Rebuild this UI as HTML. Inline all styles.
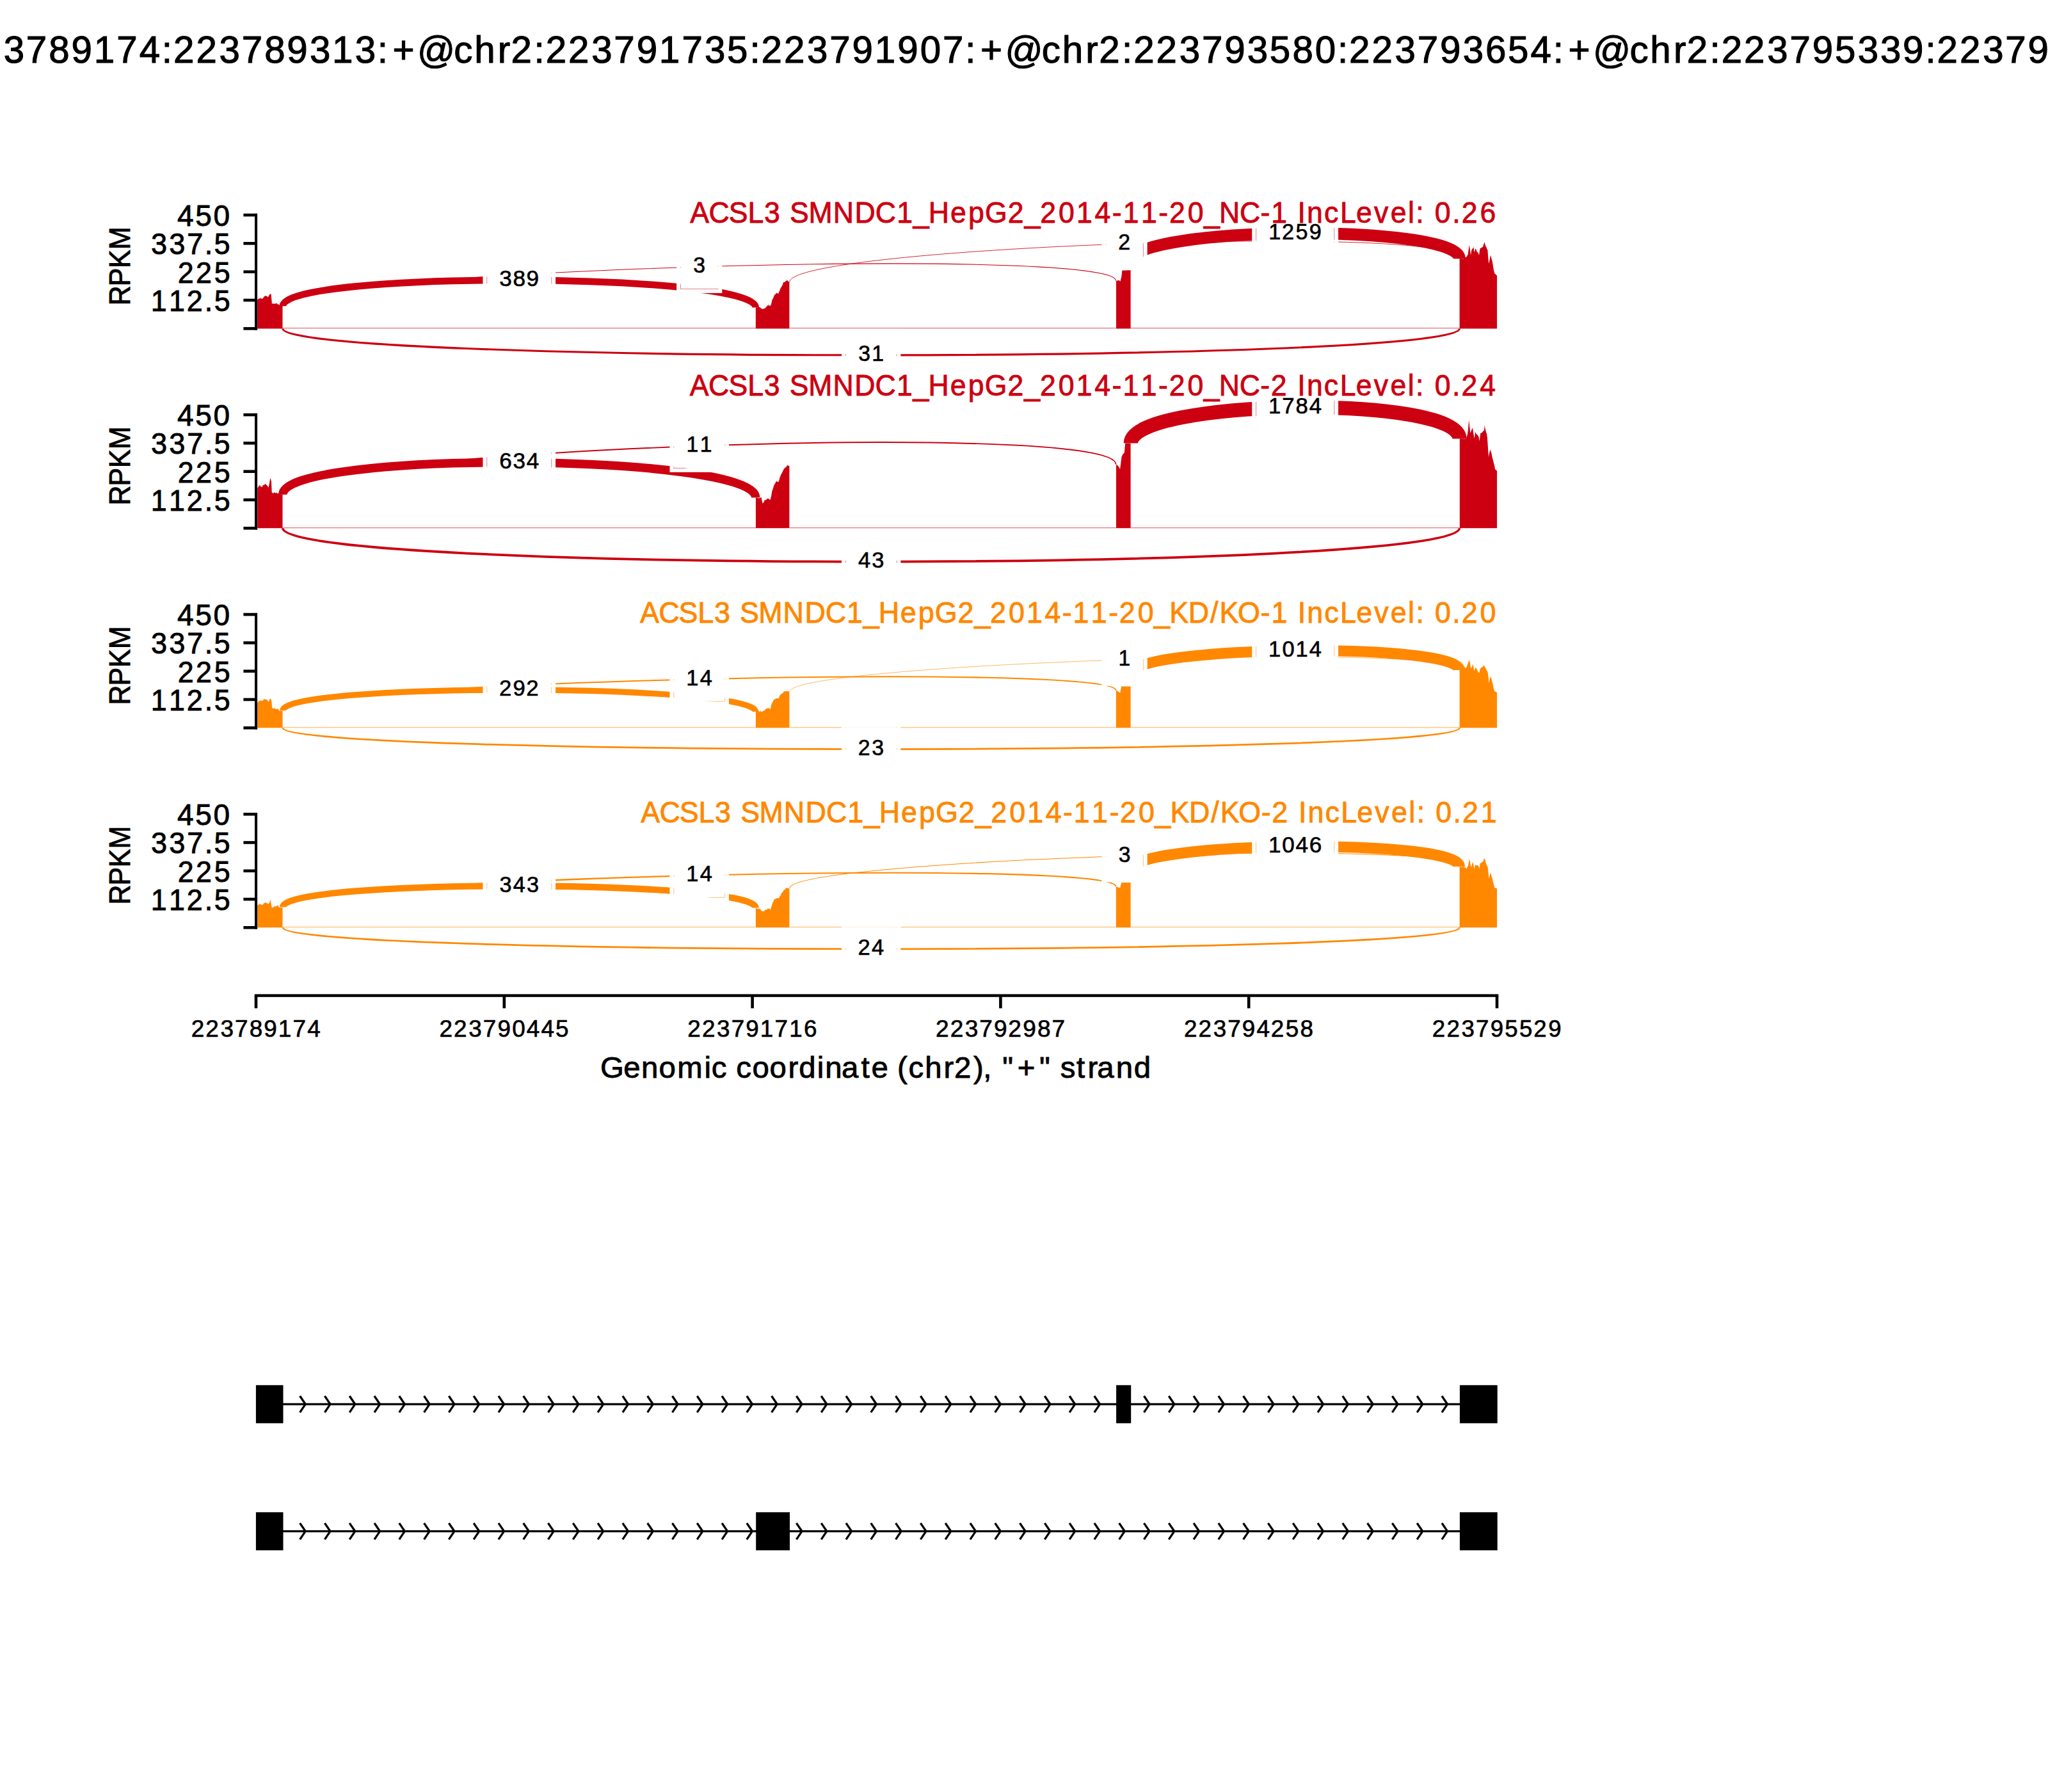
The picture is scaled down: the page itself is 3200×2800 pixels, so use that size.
<!DOCTYPE html>
<html><head><meta charset="utf-8"><style>
html,body{margin:0;padding:0;background:#fff;overflow:hidden}
svg{display:block}
text{font-family:"Liberation Sans",sans-serif;font-kerning:none}
</style></head><body>
<svg width="3200" height="2800" viewBox="0 0 3200 2800">
<rect width="3200" height="2800" fill="#fff"/>
<text transform="translate(-209.23,98.3) scale(0.9900,1)" x="0.04 32.31 69.24 90.23 126.5 144.85 180.55 217.08 252.6 288.41 323.94 359.53 395.42 431.24 466.77 485.12 520.82 557.35 592.87 628.69 664.22 700.18 735.51 771.59 807.04 831 869.99 927.85 960.11 997.05 1018.04 1054.31 1072.65 1108.36 1144.89 1180.4 1216.05 1251.63 1287.53 1323.42 1358.83 1394.58 1412.93 1448.63 1485.16 1520.68 1556.32 1591.9 1627.73 1663.62 1699.21 1734.85 1758.81 1797.8 1855.66 1887.92 1924.86 1945.85 1982.12 2000.46 2036.17 2072.69 2108.21 2143.85 2179.82 2215.23 2251.15 2286.86 2322.39 2340.74 2376.44 2412.97 2448.49 2484.13 2520.09 2555.72 2591.21 2627.13 2662.66 2686.62 2725.6 2783.47 2815.73 2852.67 2873.66 2909.92 2928.27 2963.98 3000.5 3036.02 3071.66 3107.33 3143.33 3179.04 3214.49 3250.2 3268.54 3304.25 3340.78 3376.3 3411.94 3447.6 3483.31 3518.49 3554.76 3590.47 3614.42" y="0" font-size="58.87" fill="#000" stroke="#000" stroke-width="1.11">chr2:223789174:223789313:+@chr2:223791735:223791907:+@chr2:223793580:223793654:+@chr2:223795339:223795529:+</text>
<g id="pc0">
<polygon points="402.2,513.4 402.2,468.1 403.02,467.6 403.85,467.1 404.68,466.34 405.5,466.53 406.28,466.45 407.07,466.19 407.85,465.11 408.63,466.73 409.42,467 410.2,466.52 411.05,465.82 411.9,464.48 412.75,463.26 413.6,463.02 414.37,462.37 415.14,462.46 415.91,462 416.69,462.89 417.46,462.82 418.23,464.15 419,464.18 419.97,462.11 420.93,461.1 421.9,458.91 422.75,459.39 423.6,459.55 425,475 425.78,474.49 426.57,473.69 427.35,474.46 428.13,475.07 428.92,473.95 429.7,474.82 430.46,474.62 431.21,473.93 431.97,474.23 432.73,473.57 433.49,475.56 434.24,475.63 435,474.79 436,477.11 437,477.07 437.75,477.9 438.5,477.29 439.25,478.15 440,477.97 440.75,478.08 441.5,478.2 441.5,513.4" fill="#CC0011"/>
<polygon points="1180.8,513.4 1180.8,480.4 1181.55,480.35 1182.3,480.3 1183.05,480.94 1183.8,479.79 1184.55,478.69 1185.3,479.87 1186.05,479.86 1186.8,480.26 1187.58,479.7 1188.37,481.15 1189.15,481.97 1189.93,481.67 1190.72,482.53 1191.5,483.54 1192.27,482.14 1193.04,482.3 1193.81,482.92 1194.59,481.6 1195.36,481.62 1196.13,481.31 1196.9,479.84 1197.8,478.93 1198.7,478.22 1199.6,476.74 1200.37,476.8 1201.13,476.57 1201.9,478.06 1202.67,477.48 1203.43,477.5 1204.2,477.81 1205.25,474.27 1206.3,469.5 1207.12,467.55 1207.95,466.28 1208.77,464 1209.6,461.9 1210.45,460.38 1211.3,459.96 1212.15,459.28 1213,457.57 1213.83,457.8 1214.65,458.7 1215.47,458.1 1216.3,459.14 1217.12,456.58 1217.95,454.77 1218.77,452.53 1219.6,450.2 1220.4,449.16 1221.2,447.67 1222,446.74 1222.77,444.88 1223.53,442.59 1224.3,440.71 1225.07,440.95 1225.84,440.6 1226.61,441.03 1227.39,439.34 1228.16,438.86 1228.93,439.26 1229.7,436.94 1230.62,438.61 1231.55,439.65 1232.48,440.23 1233.4,440.8 1233.4,513.4" fill="#CC0011"/>
<polygon points="1744,513.4 1744,438.6 1744.88,438.5 1745.75,438.4 1746.62,438.3 1747.5,438.2 1748.25,438 1749,437.8 1750.2,440.2 1751.2,436.65 1752.2,433.1 1753.4,422.6 1754.18,422.58 1754.95,422.55 1755.73,422.53 1756.51,422.51 1757.28,422.48 1758.06,422.46 1758.84,422.44 1759.61,422.41 1760.39,422.39 1761.16,422.36 1761.94,422.34 1762.72,422.32 1763.49,422.29 1764.27,422.27 1765.05,422.25 1765.82,422.22 1766.6,422.2 1766.6,513.4" fill="#CC0011"/>
<polygon points="2280.6,513.4 2280.6,404.2 2281.43,404.2 2282.26,404.2 2283.09,403.08 2283.91,404.27 2284.74,404.41 2285.57,404.34 2286.4,404.87 2287.22,403.87 2288.03,404.32 2288.85,403.32 2289.67,403.32 2290.48,401.57 2291.3,401.41 2292.07,400.63 2292.83,398.86 2293.6,397.71 2294.7,390.11 2295.8,382.67 2296.9,389.69 2298,399.06 2299.4,390.32 2300.18,389.78 2300.95,388.2 2301.72,387.53 2302.5,386.05 2303.4,394.09 2304.3,392.31 2305.2,388.87 2306.09,388.79 2306.97,391.17 2307.86,393.65 2308.75,393.97 2309.5,395.35 2310.25,396.45 2311,399.01 2311.9,392.31 2312.8,387.62 2313.6,387.94 2314.4,387.19 2315.2,386.85 2316,386.26 2316.8,386.01 2317.7,383.67 2318.6,380.78 2319.5,378.26 2320.38,381.19 2321.25,384.55 2322.04,385.79 2322.82,387.05 2323.61,389.38 2324.4,390.58 2325.3,402.73 2326.2,412.1 2327.07,408.59 2327.93,404.3 2328.8,398.15 2329.7,401.48 2330.6,404.46 2331.5,407.45 2332.4,412.21 2333.3,418.29 2334.2,422.9 2335.1,426.85 2335.88,428.1 2336.66,428.11 2337.44,429.46 2338.22,429.98 2339,430.5 2339,513.4" fill="#CC0011"/>
<rect x="441.8" y="511.9" width="738.9" height="1.6" fill="#CC0011" opacity="0.45"/>
<rect x="1233.6" y="511.9" width="510" height="1.6" fill="#CC0011" opacity="0.45"/>
<rect x="1766.8" y="511.9" width="513.7" height="1.6" fill="#CC0011" opacity="0.45"/>
<path d="M441.8,478.2 C441.8,422.87 1180.7,425.07 1180.7,480.4" fill="none" stroke="#CC0011" stroke-width="10.68"/>
<path d="M441.8,478.2 C441.8,422.87 1743.6,383.27 1743.6,438.6" fill="none" stroke="#CC0011" stroke-width="1.03"/>
<path d="M1233.6,440.8 C1233.6,385.47 2280.5,348.87 2280.5,404.2" fill="none" stroke="#CC0011" stroke-width="0.85"/>
<path d="M1766.8,408.2 C1766.8,352.87 2280.5,348.87 2280.5,404.2" fill="none" stroke="#CC0011" stroke-width="18.76"/>
<path d="M441.8,513.4 C441.8,568.73 2280.5,568.73 2280.5,513.4" fill="none" stroke="#CC0011" stroke-width="3.17"/>
</g>
<rect x="754.44" y="396.8" width="113.62" height="82" fill="#fff"/>
<clipPath id="cl0_389_811"><rect x="760.24" y="402.6" width="102.02" height="1"/><rect x="760.24" y="472" width="102.02" height="1"/><rect x="760.24" y="402.6" width="1" height="70.4"/><rect x="861.26" y="402.6" width="1" height="70.4"/></clipPath>
<use href="#pc0" clip-path="url(#cl0_389_811)" opacity="0.5"/>
<text transform="translate(779.44,447.1) scale(0.9959,1)" x="0.86 22.11 43.3" y="0" font-size="35.32" fill="#000" stroke="#000" stroke-width="0.67">389</text>
<rect x="1057.1" y="375.9" width="71.21" height="82" fill="#fff"/>
<clipPath id="cl0_3_1092"><rect x="1062.9" y="381.7" width="59.61" height="1"/><rect x="1062.9" y="451.1" width="59.61" height="1"/><rect x="1062.9" y="381.7" width="1" height="70.4"/><rect x="1121.5" y="381.7" width="1" height="70.4"/></clipPath>
<use href="#pc0" clip-path="url(#cl0_3_1092)" opacity="0.5"/>
<text transform="translate(1082.1,426.2) scale(0.9554,1)" x="1.31" y="0" font-size="35.32" fill="#000" stroke="#000" stroke-width="0.67">3</text>
<rect x="1721.45" y="340" width="71.21" height="82" fill="#fff"/>
<clipPath id="cl0_2_1757"><rect x="1727.25" y="345.8" width="59.61" height="1"/><rect x="1727.25" y="415.2" width="59.61" height="1"/><rect x="1727.25" y="345.8" width="1" height="70.4"/><rect x="1785.85" y="345.8" width="1" height="70.4"/></clipPath>
<use href="#pc0" clip-path="url(#cl0_2_1757)" opacity="0.5"/>
<text transform="translate(1746.45,390.3) scale(0.9589,1)" x="0.77" y="0" font-size="35.32" fill="#000" stroke="#000" stroke-width="0.67">2</text>
<rect x="1956.24" y="323.7" width="134.82" height="82" fill="#fff"/>
<clipPath id="cl0_1259_2023"><rect x="1962.04" y="329.5" width="123.22" height="1"/><rect x="1962.04" y="398.9" width="123.22" height="1"/><rect x="1962.04" y="329.5" width="1" height="70.4"/><rect x="2084.26" y="329.5" width="1" height="70.4"/></clipPath>
<use href="#pc0" clip-path="url(#cl0_1259_2023)" opacity="0.5"/>
<text transform="translate(1981.24,374) scale(0.9690,1)" x="0.94 22.54 44.75 66.65" y="0" font-size="35.32" fill="#000" stroke="#000" stroke-width="0.67">1259</text>
<rect x="1314.94" y="513.9" width="92.41" height="82" fill="#fff"/>
<clipPath id="cl0_31_1361"><rect x="1320.74" y="519.7" width="80.81" height="1"/><rect x="1320.74" y="589.1" width="80.81" height="1"/><rect x="1320.74" y="519.7" width="1" height="70.4"/><rect x="1400.56" y="519.7" width="1" height="70.4"/></clipPath>
<use href="#pc0" clip-path="url(#cl0_31_1361)" opacity="0.5"/>
<text transform="translate(1339.94,564.2) scale(0.9529,1)" x="1.34 23.38" y="0" font-size="35.32" fill="#000" stroke="#000" stroke-width="0.67">31</text>
<rect x="398" y="333.8" width="4.1" height="181.8" fill="#000"/>
<rect x="380.4" y="511.1" width="21.6" height="4.6" fill="#000"/>
<rect x="380.4" y="466.75" width="21.6" height="4.6" fill="#000"/>
<rect x="380.4" y="422.4" width="21.6" height="4.6" fill="#000"/>
<rect x="380.4" y="378.05" width="21.6" height="4.6" fill="#000"/>
<rect x="380.4" y="333.7" width="21.6" height="4.6" fill="#000"/>
<text transform="translate(234.26,485.85) scale(0.9530,1)" x="1.51 31.17 60.45 89.85 105.37" y="0" font-size="47.09" fill="#000" stroke="#000" stroke-width="0.89">112.5</text>
<text transform="translate(276.66,441.5) scale(0.9521,1)" x="1.13 30.83 60.96" y="0" font-size="47.09" fill="#000" stroke="#000" stroke-width="0.89">225</text>
<text transform="translate(234.26,397.15) scale(0.9587,1)" x="1.7 31.19 60.53 89.28 104.67" y="0" font-size="47.09" fill="#000" stroke="#000" stroke-width="0.89">337.5</text>
<text transform="translate(275.73,352.8) scale(0.9767,1)" x="1.36 30.14 59.27" y="0" font-size="47.09" fill="#000" stroke="#000" stroke-width="0.89">450</text>
<text transform="translate(203,415.5) rotate(-90) translate(-62.59,0) scale(0.9101,1)" x="0.81 33.82 64.92 96.86" y="0" font-size="47.09" fill="#000" stroke="#000" stroke-width="0.89">RPKM</text>
<text transform="translate(1077.83,347.9) scale(0.9468,1)" x="0.34 31.24 64.33 95.68 122.71 150.69 165.05 196.05 236.44 272.19 306.28 341.53 368.51 393.88 429.98 459.54 487.05 524.79 552.18 578.12 608.6 638.25 668.32 696.99 714.91 744.77 773.65 791.17 821.65 848.42 873.7 907.4 941.67 959.58 987.84 1003.14 1018.48 1046.94 1073.16 1099.74 1129.29 1156.39 1185.12 1198.25 1212.69 1229.43 1258.36 1273.59 1304.09" y="0" font-size="47.09" fill="#CC0011" stroke="#CC0011" stroke-width="0.89">ACSL3 SMNDC1_HepG2_2014-11-20_NC-1 IncLevel: 0.26</text>
<g id="pc1">
<polygon points="402.3,825.3 402.3,762.4 403.1,761.4 403.9,760.4 404.7,758.62 405.5,758.81 406.32,758.06 407.15,760.4 407.98,759.73 408.8,761.27 409.63,760.74 410.47,758.64 411.3,757.72 412.1,758.26 412.9,757.61 413.7,756.79 414.5,756.12 415.3,757 416.18,756.84 417.06,758.89 417.94,758.98 418.82,760.81 419.7,761.87 420.53,757.25 421.37,753.12 422.2,746.88 423.1,748.89 424,752.46 424.7,769.18 425.62,770.06 426.55,770.77 427.47,770.51 428.4,768.87 429.26,770.12 430.12,770.18 430.98,770.25 431.84,770.28 432.7,769.72 433.67,771.48 434.63,770.73 435.6,771.66 436.44,771.74 437.29,772.87 438.13,772 438.97,772.48 439.81,772.87 440.66,773.09 441.5,773.3 441.5,825.3" fill="#CC0011"/>
<polygon points="1180.9,825.3 1180.9,777.2 1181.8,777.58 1182.7,777.95 1183.6,778.01 1184.5,778.54 1185.35,778.27 1186.2,778.39 1187.05,778.03 1187.9,778.28 1188.75,776.82 1189.6,777.52 1190.7,783.08 1191.8,786.98 1192.85,785.14 1193.9,783.74 1194.69,781.24 1195.47,781.87 1196.26,781.11 1197.04,780.79 1197.83,780.78 1198.61,778.83 1199.4,779.14 1200.26,778.98 1201.12,779.45 1201.98,779.83 1202.84,781.15 1203.7,780.19 1204.57,777.34 1205.43,773.19 1206.3,767.43 1207.1,765.71 1207.9,763.34 1208.7,760.69 1209.5,757.6 1210.3,756.77 1211.1,755.59 1211.9,753.67 1212.7,752.44 1213.5,751.32 1214.47,753.33 1215.43,752.74 1216.4,752.66 1217.37,750.87 1218.33,746.35 1219.3,744.52 1220.4,740.91 1221.5,739.73 1222.47,737.55 1223.43,735.69 1224.4,733.51 1225.37,732.57 1226.33,730.51 1227.3,730.86 1228.4,729.65 1229.5,727.56 1230.28,726.4 1231.06,727.72 1231.84,727.62 1232.62,727.76 1233.4,727.9 1233.4,825.3" fill="#CC0011"/>
<polygon points="1744,825.3 1744,725.5 1744.83,726.2 1745.65,726.9 1746.47,727.6 1747.3,728.3 1748.23,729.87 1749.17,731.43 1750.1,733 1750.9,726.7 1751.7,720.4 1752.5,714.1 1753.45,711.95 1754.4,709.8 1755.2,709 1756,708.2 1756.8,707.4 1758.2,692.7 1758.96,692.7 1759.73,692.7 1760.49,692.7 1761.25,692.7 1762.02,692.7 1762.78,692.7 1763.55,692.7 1764.31,692.7 1765.07,692.7 1765.84,692.7 1766.6,692.7 1766.6,825.3" fill="#CC0011"/>
<polygon points="2280.8,825.3 2280.8,685.6 2281.58,685.6 2282.35,685.6 2283.13,684.04 2283.91,685.67 2284.68,685.78 2285.46,685.54 2286.24,684.7 2287.02,685.59 2287.79,686.47 2288.57,684.91 2289.35,685.5 2290.12,685.38 2290.9,685.42 2291.95,681.86 2293,678.33 2293.8,672.03 2294.6,663.26 2295.4,656.87 2296.35,667.18 2297.3,676.6 2298.23,674.85 2299.15,672.06 2300.07,670.31 2301,668.51 2301.87,674.44 2302.73,679.73 2303.6,685.22 2304.4,680.97 2305.2,674.59 2305.96,676.64 2306.71,678.01 2307.47,678.59 2308.23,679.38 2308.99,680.11 2309.74,681.26 2310.5,682.67 2311.6,689.15 2312.4,683.86 2313.2,677.12 2314.03,676.79 2314.86,676.39 2315.69,675.69 2316.51,674.96 2317.34,673.86 2318.17,672.71 2319,672.86 2319.6,664.7 2320.44,668.45 2321.28,672.32 2322.12,675.73 2322.96,677.43 2323.8,682.74 2324.85,697.71 2325.9,714.53 2326.8,708.96 2327.7,705.59 2328.6,702.09 2329.38,705.35 2330.17,707.21 2330.95,710.93 2331.73,715.19 2332.52,717.48 2333.3,720.73 2334.2,724.4 2335.1,727.83 2336,732.9 2336.75,733.71 2337.5,734.4 2338.25,734.95 2339,735.5 2339,825.3" fill="#CC0011"/>
<rect x="441.8" y="823.8" width="738.9" height="1.6" fill="#CC0011" opacity="0.45"/>
<rect x="1233.6" y="823.8" width="510" height="1.6" fill="#CC0011" opacity="0.45"/>
<rect x="1766.8" y="823.8" width="513.7" height="1.6" fill="#CC0011" opacity="0.45"/>
<path d="M441.8,772.7 C441.8,702.97 1180.7,707.67 1180.7,777.4" fill="none" stroke="#CC0011" stroke-width="13.5"/>
<path d="M441.8,772.7 C441.8,702.97 1743.6,655.77 1743.6,725.5" fill="none" stroke="#CC0011" stroke-width="1.93"/>
<path d="M1766.8,692.5 C1766.8,622.77 2280.5,615.87 2280.5,685.6" fill="none" stroke="#CC0011" stroke-width="22.18"/>
<path d="M441.8,825.3 C441.8,895.03 2280.5,895.03 2280.5,825.3" fill="none" stroke="#CC0011" stroke-width="3.71"/>
</g>
<rect x="754.44" y="681.75" width="113.62" height="82" fill="#fff"/>
<clipPath id="cl1_634_811"><rect x="760.24" y="687.55" width="102.02" height="1"/><rect x="760.24" y="756.95" width="102.02" height="1"/><rect x="760.24" y="687.55" width="1" height="70.4"/><rect x="861.26" y="687.55" width="1" height="70.4"/></clipPath>
<use href="#pc1" clip-path="url(#cl1_634_811)" opacity="0.5"/>
<text transform="translate(779.44,732.05) scale(0.9930,1)" x="0.85 22.25 43.55" y="0" font-size="35.32" fill="#000" stroke="#000" stroke-width="0.67">634</text>
<rect x="1046.49" y="655.8" width="92.41" height="82" fill="#fff"/>
<clipPath id="cl1_11_1092"><rect x="1052.29" y="661.6" width="80.81" height="1"/><rect x="1052.29" y="731" width="80.81" height="1"/><rect x="1052.29" y="661.6" width="1" height="70.4"/><rect x="1132.11" y="661.6" width="1" height="70.4"/></clipPath>
<use href="#pc1" clip-path="url(#cl1_11_1092)" opacity="0.5"/>
<text transform="translate(1071.49,706.1) scale(0.9502,1)" x="1.16 23.48" y="0" font-size="35.32" fill="#000" stroke="#000" stroke-width="0.67">11</text>
<rect x="1956.24" y="595.75" width="134.82" height="82" fill="#fff"/>
<clipPath id="cl1_1784_2023"><rect x="1962.04" y="601.55" width="123.22" height="1"/><rect x="1962.04" y="670.95" width="123.22" height="1"/><rect x="1962.04" y="601.55" width="1" height="70.4"/><rect x="2084.26" y="601.55" width="1" height="70.4"/></clipPath>
<use href="#pc1" clip-path="url(#cl1_1784_2023)" opacity="0.5"/>
<text transform="translate(1981.24,646.05) scale(0.9819,1)" x="0.79 22.5 44.16 65.75" y="0" font-size="35.32" fill="#000" stroke="#000" stroke-width="0.67">1784</text>
<rect x="1314.94" y="836.6" width="92.41" height="82" fill="#fff"/>
<clipPath id="cl1_43_1361"><rect x="1320.74" y="842.4" width="80.81" height="1"/><rect x="1320.74" y="911.8" width="80.81" height="1"/><rect x="1320.74" y="842.4" width="1" height="70.4"/><rect x="1400.56" y="842.4" width="1" height="70.4"/></clipPath>
<use href="#pc1" clip-path="url(#cl1_43_1361)" opacity="0.5"/>
<text transform="translate(1339.94,886.9) scale(0.9758,1)" x="1.03 22.81" y="0" font-size="35.32" fill="#000" stroke="#000" stroke-width="0.67">43</text>
<rect x="398" y="645.9" width="4.1" height="181.6" fill="#000"/>
<rect x="380.4" y="823" width="21.6" height="4.6" fill="#000"/>
<rect x="380.4" y="778.7" width="21.6" height="4.6" fill="#000"/>
<rect x="380.4" y="734.4" width="21.6" height="4.6" fill="#000"/>
<rect x="380.4" y="690.1" width="21.6" height="4.6" fill="#000"/>
<rect x="380.4" y="645.8" width="21.6" height="4.6" fill="#000"/>
<text transform="translate(234.26,797.8) scale(0.9530,1)" x="1.51 31.17 60.45 89.85 105.37" y="0" font-size="47.09" fill="#000" stroke="#000" stroke-width="0.89">112.5</text>
<text transform="translate(276.66,753.5) scale(0.9521,1)" x="1.13 30.83 60.96" y="0" font-size="47.09" fill="#000" stroke="#000" stroke-width="0.89">225</text>
<text transform="translate(234.26,709.2) scale(0.9587,1)" x="1.7 31.19 60.53 89.28 104.67" y="0" font-size="47.09" fill="#000" stroke="#000" stroke-width="0.89">337.5</text>
<text transform="translate(275.73,664.9) scale(0.9767,1)" x="1.36 30.14 59.27" y="0" font-size="47.09" fill="#000" stroke="#000" stroke-width="0.89">450</text>
<text transform="translate(203,727.6) rotate(-90) translate(-62.59,0) scale(0.9101,1)" x="0.81 33.82 64.92 96.86" y="0" font-size="47.09" fill="#000" stroke="#000" stroke-width="0.89">RPKM</text>
<text transform="translate(1077.53,617.9) scale(0.9464,1)" x="0.35 31.26 64.37 95.74 122.77 150.76 165.14 196.15 236.56 272.33 306.44 341.7 368.7 394.09 430.2 459.78 487.3 525.06 552.46 578.41 608.91 638.57 668.65 697.34 715.27 745.14 774.04 791.57 822.06 848.84 874.14 907.85 942.13 959.66 988.32 1003.63 1018.99 1047.46 1073.7 1100.29 1129.86 1156.97 1185.71 1198.84 1213.28 1230.04 1258.99 1274.23 1304.71" y="0" font-size="47.09" fill="#CC0011" stroke="#CC0011" stroke-width="0.89">ACSL3 SMNDC1_HepG2_2014-11-20_NC-2 IncLevel: 0.24</text>
<g id="pc2">
<polygon points="402.3,1137.3 402.3,1097.6 403.27,1096.63 404.23,1095.67 405.2,1094.8 406.06,1095.06 406.92,1094.73 407.78,1094.61 408.64,1094.66 409.5,1094.68 410.6,1095.24 411.7,1093.1 412.6,1092.33 413.5,1092.31 414.4,1092.96 415.3,1092.52 416.18,1093.06 417.06,1093.72 417.94,1093.57 418.82,1095.92 419.7,1096.38 420.67,1094.39 421.63,1091.92 422.6,1091.74 423.5,1092.83 424.4,1095.75 425.1,1105.47 425.9,1107.36 426.7,1106.44 427.5,1106.88 428.3,1106.51 429.1,1107.49 429.87,1106.22 430.64,1107.85 431.41,1108.21 432.19,1107.84 432.96,1107.35 433.73,1107.4 434.5,1107.96 435.4,1108.47 436.3,1111.11 437.17,1110 438.03,1110.92 438.9,1110.66 439.77,1110.7 440.63,1110.7 441.5,1110.7 441.5,1137.3" fill="#FF8800"/>
<polygon points="1180.9,1137.3 1180.9,1112.1 1181.7,1112.06 1182.5,1112.02 1183.3,1111.06 1184.1,1111.83 1184.9,1111.44 1185.7,1111.36 1186.5,1111.36 1187.3,1112.18 1188.1,1110.39 1188.9,1110.92 1189.8,1111.89 1190.7,1112.89 1191.5,1111.1 1192.3,1110.84 1193.1,1110.95 1193.9,1109.9 1194.69,1110.02 1195.47,1108.73 1196.26,1108.22 1197.04,1107.73 1197.83,1106.68 1198.61,1106.74 1199.4,1107.09 1200.26,1106.56 1201.12,1106.68 1201.98,1106.38 1202.84,1108.09 1203.7,1108.06 1204.6,1104.44 1205.5,1099.95 1206.3,1098.68 1207.1,1097.41 1207.9,1095.56 1208.7,1094.43 1209.5,1092.07 1210.3,1092.75 1211.1,1092.99 1211.9,1091.31 1212.7,1091.27 1213.5,1091.1 1214.47,1090.99 1215.43,1091.92 1216.4,1091.37 1217.37,1089.65 1218.33,1087.1 1219.3,1085.58 1220.13,1085.26 1220.96,1083.8 1221.79,1084.13 1222.61,1082.73 1223.44,1083.01 1224.27,1081.35 1225.1,1079.46 1225.98,1080.57 1226.86,1080.39 1227.74,1079.69 1228.62,1080.03 1229.5,1079.65 1230.28,1080.35 1231.06,1079.73 1231.84,1080.34 1232.62,1080.62 1233.4,1080.9 1233.4,1137.3" fill="#FF8800"/>
<polygon points="1743.8,1137.3 1743.8,1078.7 1744.56,1079.04 1745.32,1079.38 1746.08,1079.72 1746.84,1080.06 1747.6,1080.4 1748.43,1081.23 1749.27,1082.07 1750.1,1082.9 1751.15,1077.65 1752.2,1072.4 1752.96,1072.4 1753.72,1072.4 1754.47,1072.4 1755.23,1072.4 1755.99,1072.4 1756.75,1072.4 1757.51,1072.4 1758.26,1072.4 1759.02,1072.4 1759.78,1072.4 1760.54,1072.4 1761.29,1072.4 1762.05,1072.4 1762.81,1072.4 1763.57,1072.4 1764.33,1072.4 1765.08,1072.4 1765.84,1072.4 1766.6,1072.4 1766.6,1137.3" fill="#FF8800"/>
<polygon points="2280.6,1137.3 2280.6,1047.1 2281.36,1046.66 2282.12,1046.22 2282.88,1045.38 2283.64,1045.61 2284.4,1043.91 2285.16,1044.55 2285.92,1043.24 2286.68,1043.94 2287.44,1043.09 2288.2,1042.09 2289.1,1042.89 2290,1044.32 2290.9,1043.36 2291.72,1042.08 2292.53,1039.99 2293.35,1036.78 2294.17,1036.09 2294.98,1033.2 2295.8,1030.66 2296.7,1034.87 2297.6,1040.69 2298.5,1045.07 2299.28,1041.89 2300.05,1041.76 2300.82,1039.81 2301.6,1037.21 2302.5,1043.08 2303.4,1048.61 2304.5,1045.44 2305.6,1043.06 2306.43,1044.06 2307.26,1044.99 2308.09,1046.79 2308.91,1048.22 2309.74,1050.47 2310.57,1050.83 2311.4,1051.13 2312.8,1044.15 2313.58,1044.78 2314.35,1043.04 2315.12,1043.26 2315.9,1041.99 2316.68,1041.88 2317.45,1041.41 2318.22,1039.21 2319,1039.75 2319.75,1041.9 2320.5,1043.03 2321.25,1043.09 2322.14,1045.98 2323.03,1047.58 2323.91,1049.03 2324.8,1051.48 2325.7,1058.51 2326.6,1067.42 2327.7,1061.09 2328.8,1057.38 2329.57,1058.01 2330.33,1060.86 2331.1,1063.64 2331.9,1066.6 2332.7,1069.71 2333.5,1074.23 2334.3,1077.2 2335.1,1080.1 2335.88,1080.55 2336.66,1080.23 2337.44,1081.28 2338.22,1081.64 2339,1082 2339,1137.3" fill="#FF8800"/>
<rect x="441.8" y="1135.8" width="738.9" height="1.6" fill="#FF8800" opacity="0.45"/>
<rect x="1233.6" y="1135.8" width="510" height="1.6" fill="#FF8800" opacity="0.45"/>
<rect x="1766.8" y="1135.8" width="513.7" height="1.6" fill="#FF8800" opacity="0.45"/>
<path d="M441.8,1110.2 C441.8,1065.93 1180.7,1067.83 1180.7,1112.1" fill="none" stroke="#FF8800" stroke-width="9.3"/>
<path d="M441.8,1110.2 C441.8,1065.93 1743.6,1034.43 1743.6,1078.7" fill="none" stroke="#FF8800" stroke-width="2.17"/>
<path d="M1233.6,1080.9 C1233.6,1036.63 2280.5,1002.83 2280.5,1047.1" fill="none" stroke="#FF8800" stroke-width="0.61"/>
<path d="M1766.8,1052.7 C1766.8,1008.43 2280.5,1002.83 2280.5,1047.1" fill="none" stroke="#FF8800" stroke-width="16.91"/>
<path d="M441.8,1137.3 C441.8,1181.57 2280.5,1181.57 2280.5,1137.3" fill="none" stroke="#FF8800" stroke-width="2.75"/>
</g>
<rect x="754.44" y="1036.95" width="113.62" height="82" fill="#fff"/>
<clipPath id="cl2_292_811"><rect x="760.24" y="1042.75" width="102.02" height="1"/><rect x="760.24" y="1112.15" width="102.02" height="1"/><rect x="760.24" y="1042.75" width="1" height="70.4"/><rect x="861.26" y="1042.75" width="1" height="70.4"/></clipPath>
<use href="#pc2" clip-path="url(#cl2_292_811)" opacity="0.5"/>
<text transform="translate(779.44,1087.25) scale(0.9820,1)" x="0.52 22.45 43.71" y="0" font-size="35.32" fill="#000" stroke="#000" stroke-width="0.67">292</text>
<rect x="1046.49" y="1020.25" width="92.41" height="82" fill="#fff"/>
<clipPath id="cl2_14_1092"><rect x="1052.29" y="1026.05" width="80.81" height="1"/><rect x="1052.29" y="1095.45" width="80.81" height="1"/><rect x="1052.29" y="1026.05" width="1" height="70.4"/><rect x="1132.11" y="1026.05" width="1" height="70.4"/></clipPath>
<use href="#pc2" clip-path="url(#cl2_14_1092)" opacity="0.5"/>
<text transform="translate(1071.49,1070.55) scale(0.9743,1)" x="0.88 22.81" y="0" font-size="35.32" fill="#000" stroke="#000" stroke-width="0.67">14</text>
<rect x="1721.45" y="989.8" width="71.21" height="82" fill="#fff"/>
<clipPath id="cl2_1_1757"><rect x="1727.25" y="995.6" width="59.61" height="1"/><rect x="1727.25" y="1065" width="59.61" height="1"/><rect x="1727.25" y="995.6" width="1" height="70.4"/><rect x="1785.85" y="995.6" width="1" height="70.4"/></clipPath>
<use href="#pc2" clip-path="url(#cl2_1_1757)" opacity="0.5"/>
<text transform="translate(1746.45,1040.1) scale(0.9502,1)" x="1.16" y="0" font-size="35.32" fill="#000" stroke="#000" stroke-width="0.67">1</text>
<rect x="1956.24" y="975.7" width="134.82" height="82" fill="#fff"/>
<clipPath id="cl2_1014_2023"><rect x="1962.04" y="981.5" width="123.22" height="1"/><rect x="1962.04" y="1050.9" width="123.22" height="1"/><rect x="1962.04" y="981.5" width="1" height="70.4"/><rect x="2084.26" y="981.5" width="1" height="70.4"/></clipPath>
<use href="#pc2" clip-path="url(#cl2_1014_2023)" opacity="0.5"/>
<text transform="translate(1981.24,1026) scale(0.9740,1)" x="0.88 22.83 44.43 66.37" y="0" font-size="35.32" fill="#000" stroke="#000" stroke-width="0.67">1014</text>
<rect x="1314.94" y="1129.5" width="92.41" height="82" fill="#fff"/>
<clipPath id="cl2_23_1361"><rect x="1320.74" y="1135.3" width="80.81" height="1"/><rect x="1320.74" y="1204.7" width="80.81" height="1"/><rect x="1320.74" y="1135.3" width="1" height="70.4"/><rect x="1400.56" y="1135.3" width="1" height="70.4"/></clipPath>
<use href="#pc2" clip-path="url(#cl2_23_1361)" opacity="0.5"/>
<text transform="translate(1339.94,1179.8) scale(0.9571,1)" x="0.79 23.45" y="0" font-size="35.32" fill="#000" stroke="#000" stroke-width="0.67">23</text>
<rect x="398" y="957.9" width="4.1" height="181.6" fill="#000"/>
<rect x="380.4" y="1135" width="21.6" height="4.6" fill="#000"/>
<rect x="380.4" y="1090.7" width="21.6" height="4.6" fill="#000"/>
<rect x="380.4" y="1046.4" width="21.6" height="4.6" fill="#000"/>
<rect x="380.4" y="1002.1" width="21.6" height="4.6" fill="#000"/>
<rect x="380.4" y="957.8" width="21.6" height="4.6" fill="#000"/>
<text transform="translate(234.26,1109.8) scale(0.9530,1)" x="1.51 31.17 60.45 89.85 105.37" y="0" font-size="47.09" fill="#000" stroke="#000" stroke-width="0.89">112.5</text>
<text transform="translate(276.66,1065.5) scale(0.9521,1)" x="1.13 30.83 60.96" y="0" font-size="47.09" fill="#000" stroke="#000" stroke-width="0.89">225</text>
<text transform="translate(234.26,1021.2) scale(0.9587,1)" x="1.7 31.19 60.53 89.28 104.67" y="0" font-size="47.09" fill="#000" stroke="#000" stroke-width="0.89">337.5</text>
<text transform="translate(275.73,976.9) scale(0.9767,1)" x="1.36 30.14 59.27" y="0" font-size="47.09" fill="#000" stroke="#000" stroke-width="0.89">450</text>
<text transform="translate(203,1039.6) rotate(-90) translate(-62.59,0) scale(0.9101,1)" x="0.81 33.82 64.92 96.86" y="0" font-size="47.09" fill="#000" stroke="#000" stroke-width="0.89">RPKM</text>
<text transform="translate(999.8,972.7) scale(0.9515,1)" x="0.26 31 63.93 95.14 122.04 149.94 164.16 194.98 235.18 270.75 304.68 339.77 366.63 391.85 427.79 457.2 484.56 522.13 549.39 575.2 605.53 635.02 664.95 693.51 711.31 741.02 769.79 787.19 817.53 844.16 869.57 900.55 936.76 951.89 981.87 1019.14 1036.94 1065.12 1080.31 1095.55 1123.87 1149.95 1176.41 1205.82 1232.78 1261.41 1274.46 1288.86 1305.46 1334.28 1349.4 1379.73" y="0" font-size="47.09" fill="#FF8800" stroke="#FF8800" stroke-width="0.89">ACSL3 SMNDC1_HepG2_2014-11-20_KD/KO-1 IncLevel: 0.20</text>
<g id="pc3">
<polygon points="402.3,1449.3 402.3,1414.9 403.1,1414.25 403.9,1413.6 404.7,1412.65 405.5,1411.85 406.32,1413.18 407.15,1413.01 407.98,1413.48 408.8,1413.36 409.77,1414.49 410.73,1413.55 411.7,1411.63 412.6,1411.43 413.5,1410.49 414.4,1410.27 415.3,1410.29 416.08,1410.61 416.87,1411.75 417.65,1410.75 418.43,1411.71 419.22,1412.43 420,1411.7 420.87,1410.25 421.73,1408.1 422.6,1405.23 423.65,1412.47 424.7,1417.87 425.62,1418.62 426.55,1417.09 427.47,1417.9 428.4,1416.27 429.23,1416.14 430.07,1416.43 430.9,1415.67 431.73,1415.37 432.57,1416.36 433.4,1414.45 434.37,1414.86 435.33,1416.4 436.3,1418.4 437.17,1417.76 438.03,1418.29 438.9,1417.95 439.77,1418 440.63,1418.05 441.5,1418.1 441.5,1449.3" fill="#FF8800"/>
<polygon points="1180.9,1449.3 1180.9,1418.5 1181.8,1419.12 1182.7,1419.75 1183.6,1420.18 1184.5,1420.21 1185.47,1419.4 1186.43,1419.51 1187.4,1420.63 1188.28,1420.35 1189.16,1422.7 1190.04,1423.31 1190.92,1422.99 1191.8,1424.41 1192.77,1423.96 1193.73,1423.71 1194.7,1421.75 1195.53,1422.77 1196.37,1420.92 1197.2,1421.12 1198.03,1421.85 1198.87,1421.08 1199.7,1418.85 1200.58,1420.01 1201.46,1419.42 1202.34,1419.92 1203.22,1421.15 1204.1,1420.43 1205.2,1416.9 1206.3,1413.78 1207.1,1410.28 1207.9,1409.45 1208.7,1407.9 1209.5,1405.48 1210.3,1405.12 1211.1,1404.59 1211.9,1404.55 1212.7,1404.44 1213.5,1402.8 1214.47,1403.7 1215.43,1402.78 1216.4,1403.82 1217.37,1403 1218.33,1400.56 1219.3,1400.05 1220.15,1398.48 1221,1395.43 1221.85,1394.88 1222.7,1393.88 1223.55,1392.79 1224.4,1391.06 1225.26,1390.48 1226.12,1390.62 1226.98,1389.56 1227.84,1387.56 1228.7,1388.03 1229.48,1387.09 1230.27,1387.53 1231.05,1388.19 1231.83,1388 1232.62,1388 1233.4,1388 1233.4,1449.3" fill="#FF8800"/>
<polygon points="1743.8,1449.3 1743.8,1385.4 1744.56,1385.64 1745.32,1385.88 1746.08,1386.12 1746.84,1386.36 1747.6,1386.6 1748.43,1386.9 1749.27,1387.2 1750.1,1387.5 1751.15,1383.3 1752.2,1379.1 1752.96,1379.1 1753.72,1379.1 1754.47,1379.1 1755.23,1379.1 1755.99,1379.1 1756.75,1379.1 1757.51,1379.1 1758.26,1379.1 1759.02,1379.1 1759.78,1379.1 1760.54,1379.1 1761.29,1379.1 1762.05,1379.1 1762.81,1379.1 1763.57,1379.1 1764.33,1379.1 1765.08,1379.1 1765.84,1379.1 1766.6,1379.1 1766.6,1449.3" fill="#FF8800"/>
<polygon points="2280.6,1449.3 2280.6,1354 2281.37,1354.13 2282.15,1354.25 2282.92,1354.66 2283.69,1354.86 2284.46,1354.75 2285.24,1354.44 2286.01,1353.94 2286.78,1354.27 2287.55,1354.82 2288.33,1355.67 2289.1,1354.62 2290.2,1355.99 2291.3,1357.88 2292.07,1356.28 2292.83,1354.07 2293.6,1353.94 2294.7,1348.88 2295.8,1341.9 2296.7,1345.62 2297.6,1350.54 2298.5,1354.82 2299.4,1352.92 2300.3,1349.59 2301.2,1346.76 2302.3,1351.29 2303.4,1358.15 2304.5,1353.23 2305.6,1350.65 2306.42,1352.15 2307.23,1351.92 2308.05,1351.46 2308.87,1352.61 2309.68,1352.69 2310.5,1353.9 2311.4,1357.26 2312.8,1348.83 2313.6,1348.8 2314.4,1347.92 2315.2,1347.12 2316,1347.21 2316.8,1346.87 2317.7,1345.13 2318.6,1342.43 2319.5,1341 2320.38,1343.12 2321.25,1346.6 2322.14,1349.68 2323.03,1351.74 2323.91,1353.05 2324.8,1355.78 2325.7,1365.19 2326.6,1373.62 2327.7,1368.35 2328.8,1363.68 2329.57,1365.51 2330.33,1368.27 2331.1,1370.83 2331.9,1373.12 2332.7,1377.03 2333.5,1380.29 2334.3,1382.75 2335.1,1386.43 2335.88,1387.26 2336.66,1387.55 2337.44,1387.84 2338.22,1388.12 2339,1388.4 2339,1449.3" fill="#FF8800"/>
<rect x="441.8" y="1447.8" width="738.9" height="1.6" fill="#FF8800" opacity="0.45"/>
<rect x="1233.6" y="1447.8" width="510" height="1.6" fill="#FF8800" opacity="0.45"/>
<rect x="1766.8" y="1447.8" width="513.7" height="1.6" fill="#FF8800" opacity="0.45"/>
<path d="M441.8,1417.3 C441.8,1372.63 1180.7,1373.83 1180.7,1418.5" fill="none" stroke="#FF8800" stroke-width="10.05"/>
<path d="M441.8,1417.3 C441.8,1372.63 1743.6,1340.63 1743.6,1385.3" fill="none" stroke="#FF8800" stroke-width="2.17"/>
<path d="M1233.6,1388 C1233.6,1343.33 2280.5,1309.33 2280.5,1354" fill="none" stroke="#FF8800" stroke-width="1.03"/>
<path d="M1766.8,1358.8 C1766.8,1314.13 2280.5,1309.33 2280.5,1354" fill="none" stroke="#FF8800" stroke-width="17.17"/>
<path d="M441.8,1449.3 C441.8,1493.97 2280.5,1493.97 2280.5,1449.3" fill="none" stroke="#FF8800" stroke-width="2.8"/>
</g>
<rect x="754.44" y="1343.4" width="113.62" height="82" fill="#fff"/>
<clipPath id="cl3_343_811"><rect x="760.24" y="1349.2" width="102.02" height="1"/><rect x="760.24" y="1418.6" width="102.02" height="1"/><rect x="760.24" y="1349.2" width="1" height="70.4"/><rect x="861.26" y="1349.2" width="1" height="70.4"/></clipPath>
<use href="#pc3" clip-path="url(#cl3_343_811)" opacity="0.5"/>
<text transform="translate(779.44,1393.7) scale(0.9691,1)" x="1.16 22.99 44.92" y="0" font-size="35.32" fill="#000" stroke="#000" stroke-width="0.67">343</text>
<rect x="1046.49" y="1326.8" width="92.41" height="82" fill="#fff"/>
<clipPath id="cl3_14_1092"><rect x="1052.29" y="1332.6" width="80.81" height="1"/><rect x="1052.29" y="1402" width="80.81" height="1"/><rect x="1052.29" y="1332.6" width="1" height="70.4"/><rect x="1132.11" y="1332.6" width="1" height="70.4"/></clipPath>
<use href="#pc3" clip-path="url(#cl3_14_1092)" opacity="0.5"/>
<text transform="translate(1071.49,1377.1) scale(0.9743,1)" x="0.88 22.81" y="0" font-size="35.32" fill="#000" stroke="#000" stroke-width="0.67">14</text>
<rect x="1721.45" y="1296.5" width="71.21" height="82" fill="#fff"/>
<clipPath id="cl3_3_1757"><rect x="1727.25" y="1302.3" width="59.61" height="1"/><rect x="1727.25" y="1371.7" width="59.61" height="1"/><rect x="1727.25" y="1302.3" width="1" height="70.4"/><rect x="1785.85" y="1302.3" width="1" height="70.4"/></clipPath>
<use href="#pc3" clip-path="url(#cl3_3_1757)" opacity="0.5"/>
<text transform="translate(1746.45,1346.8) scale(0.9554,1)" x="1.31" y="0" font-size="35.32" fill="#000" stroke="#000" stroke-width="0.67">3</text>
<rect x="1956.24" y="1281.9" width="134.82" height="82" fill="#fff"/>
<clipPath id="cl3_1046_2023"><rect x="1962.04" y="1287.7" width="123.22" height="1"/><rect x="1962.04" y="1357.1" width="123.22" height="1"/><rect x="1962.04" y="1287.7" width="1" height="70.4"/><rect x="2084.26" y="1287.7" width="1" height="70.4"/></clipPath>
<use href="#pc3" clip-path="url(#cl3_1046_2023)" opacity="0.5"/>
<text transform="translate(1981.24,1332.2) scale(0.9931,1)" x="0.67 22.2 43.55 64.9" y="0" font-size="35.32" fill="#000" stroke="#000" stroke-width="0.67">1046</text>
<rect x="1314.94" y="1441.8" width="92.41" height="82" fill="#fff"/>
<clipPath id="cl3_24_1361"><rect x="1320.74" y="1447.6" width="80.81" height="1"/><rect x="1320.74" y="1517" width="80.81" height="1"/><rect x="1320.74" y="1447.6" width="1" height="70.4"/><rect x="1400.56" y="1447.6" width="1" height="70.4"/></clipPath>
<use href="#pc3" clip-path="url(#cl3_24_1361)" opacity="0.5"/>
<text transform="translate(1339.94,1492.1) scale(0.9778,1)" x="0.56 22.7" y="0" font-size="35.32" fill="#000" stroke="#000" stroke-width="0.67">24</text>
<rect x="398" y="1270" width="4.1" height="181.5" fill="#000"/>
<rect x="380.4" y="1447" width="21.6" height="4.6" fill="#000"/>
<rect x="380.4" y="1402.73" width="21.6" height="4.6" fill="#000"/>
<rect x="380.4" y="1358.45" width="21.6" height="4.6" fill="#000"/>
<rect x="380.4" y="1314.17" width="21.6" height="4.6" fill="#000"/>
<rect x="380.4" y="1269.9" width="21.6" height="4.6" fill="#000"/>
<text transform="translate(234.26,1421.83) scale(0.9530,1)" x="1.51 31.17 60.45 89.85 105.37" y="0" font-size="47.09" fill="#000" stroke="#000" stroke-width="0.89">112.5</text>
<text transform="translate(276.66,1377.55) scale(0.9521,1)" x="1.13 30.83 60.96" y="0" font-size="47.09" fill="#000" stroke="#000" stroke-width="0.89">225</text>
<text transform="translate(234.26,1333.27) scale(0.9587,1)" x="1.7 31.19 60.53 89.28 104.67" y="0" font-size="47.09" fill="#000" stroke="#000" stroke-width="0.89">337.5</text>
<text transform="translate(275.73,1289) scale(0.9767,1)" x="1.36 30.14 59.27" y="0" font-size="47.09" fill="#000" stroke="#000" stroke-width="0.89">450</text>
<text transform="translate(203,1351.7) rotate(-90) translate(-62.59,0) scale(0.9101,1)" x="0.81 33.82 64.92 96.86" y="0" font-size="47.09" fill="#000" stroke="#000" stroke-width="0.89">RPKM</text>
<text transform="translate(1000.95,1284.8) scale(0.9508,1)" x="0.27 31.04 63.99 95.23 122.15 150.06 164.3 195.15 235.39 270.99 304.94 340.06 366.94 392.18 428.15 457.58 484.97 522.57 549.84 575.68 606.03 635.55 665.5 694.08 711.89 741.63 770.42 787.84 818.2 844.85 870.28 901.29 937.52 952.67 982.68 1019.97 1037.39 1065.98 1081.19 1096.44 1124.79 1150.89 1177.36 1206.8 1233.78 1262.43 1275.5 1289.9 1306.52 1335.36 1350.5 1380.63" y="0" font-size="47.09" fill="#FF8800" stroke="#FF8800" stroke-width="0.89">ACSL3 SMNDC1_HepG2_2014-11-20_KD/KO-2 IncLevel: 0.21</text>
<rect x="397.8" y="1553.4" width="1943.5" height="4.4" fill="#000"/>
<rect x="397.7" y="1555.6" width="4.6" height="19.8" fill="#000"/>
<text transform="translate(298.08,1620.3) scale(0.9780,1)" x="0.6 23.76 47.45 70.49 93.72 116.77 139.86 163.13 186.36" y="0" font-size="37.72" fill="#000" stroke="#000" stroke-width="0.71">223789174</text>
<rect x="785.5" y="1555.6" width="4.6" height="19.8" fill="#000"/>
<text transform="translate(685.88,1620.3) scale(0.9778,1)" x="0.6 23.77 47.46 70.5 93.62 116.9 140.06 163.23 186.26" y="0" font-size="37.72" fill="#000" stroke="#000" stroke-width="0.71">223790445</text>
<rect x="1173.3" y="1555.6" width="4.6" height="19.8" fill="#000"/>
<text transform="translate(1073.68,1620.3) scale(0.9756,1)" x="0.63 23.85 47.59 70.69 93.86 117.01 140.34 163.44 186.85" y="0" font-size="37.72" fill="#000" stroke="#000" stroke-width="0.71">223791716</text>
<rect x="1561.1" y="1555.6" width="4.6" height="19.8" fill="#000"/>
<text transform="translate(1461.48,1620.3) scale(0.9822,1)" x="0.55 23.61 47.2 70.14 93.16 115.85 139.28 162.45 185.44" y="0" font-size="37.72" fill="#000" stroke="#000" stroke-width="0.71">223792987</text>
<rect x="1948.9" y="1555.6" width="4.6" height="19.8" fill="#000"/>
<text transform="translate(1849.28,1620.3) scale(0.9749,1)" x="0.64 23.87 47.63 70.75 93.94 117.28 140.04 163.61 186.99" y="0" font-size="37.72" fill="#000" stroke="#000" stroke-width="0.71">223794258</text>
<rect x="2336.7" y="1555.6" width="4.6" height="19.8" fill="#000"/>
<text transform="translate(2237.08,1620.3) scale(0.9707,1)" x="0.68 24.02 47.88 71.09 94.38 117.69 141.02 164.02 187.72" y="0" font-size="37.72" fill="#000" stroke="#000" stroke-width="0.71">223795529</text>
<text transform="translate(939.2,1683.6) scale(1.0062,1)" x="-1.2 34.8 62.39 89.81 118.42 160.35 171.54 195.98 209.86 234.73 261.75 290.41 307.16 335.46 347.8 373.55 403.86 419.75 446.35 459.97 477.45 502.82 531.96 548.41 578.11 593.4 607.41 623.25 646.53 680.57 699.08 713.17 738.13 755.52 770.36 799.67 827.32" y="0" font-size="47.09" fill="#000" stroke="#000" stroke-width="0.89">Genomic coordinate (chr2), &quot;+&quot; strand</text>
<rect x="400" y="2192.45" width="1939" height="3.2" fill="#000"/>
<path d="M429.81,2181.25 L438.41,2194.05 L429.81,2206.85 M468.6,2181.25 L477.2,2194.05 L468.6,2206.85 M507.39,2181.25 L515.99,2194.05 L507.39,2206.85 M546.18,2181.25 L554.78,2194.05 L546.18,2206.85 M584.97,2181.25 L593.57,2194.05 L584.97,2206.85 M623.76,2181.25 L632.36,2194.05 L623.76,2206.85 M662.55,2181.25 L671.15,2194.05 L662.55,2206.85 M701.34,2181.25 L709.94,2194.05 L701.34,2206.85 M740.13,2181.25 L748.73,2194.05 L740.13,2206.85 M778.92,2181.25 L787.52,2194.05 L778.92,2206.85 M817.71,2181.25 L826.31,2194.05 L817.71,2206.85 M856.5,2181.25 L865.1,2194.05 L856.5,2206.85 M895.29,2181.25 L903.89,2194.05 L895.29,2206.85 M934.08,2181.25 L942.68,2194.05 L934.08,2206.85 M972.87,2181.25 L981.47,2194.05 L972.87,2206.85 M1011.66,2181.25 L1020.26,2194.05 L1011.66,2206.85 M1050.45,2181.25 L1059.05,2194.05 L1050.45,2206.85 M1089.24,2181.25 L1097.84,2194.05 L1089.24,2206.85 M1128.03,2181.25 L1136.63,2194.05 L1128.03,2206.85 M1166.82,2181.25 L1175.42,2194.05 L1166.82,2206.85 M1205.61,2181.25 L1214.21,2194.05 L1205.61,2206.85 M1244.4,2181.25 L1253,2194.05 L1244.4,2206.85 M1283.19,2181.25 L1291.79,2194.05 L1283.19,2206.85 M1321.98,2181.25 L1330.58,2194.05 L1321.98,2206.85 M1360.77,2181.25 L1369.37,2194.05 L1360.77,2206.85 M1399.56,2181.25 L1408.16,2194.05 L1399.56,2206.85 M1438.35,2181.25 L1446.95,2194.05 L1438.35,2206.85 M1477.14,2181.25 L1485.74,2194.05 L1477.14,2206.85 M1515.93,2181.25 L1524.53,2194.05 L1515.93,2206.85 M1554.72,2181.25 L1563.32,2194.05 L1554.72,2206.85 M1593.51,2181.25 L1602.11,2194.05 L1593.51,2206.85 M1632.3,2181.25 L1640.9,2194.05 L1632.3,2206.85 M1671.09,2181.25 L1679.69,2194.05 L1671.09,2206.85 M1709.88,2181.25 L1718.48,2194.05 L1709.88,2206.85 M1748.67,2181.25 L1757.27,2194.05 L1748.67,2206.85 M1787.46,2181.25 L1796.06,2194.05 L1787.46,2206.85 M1826.25,2181.25 L1834.85,2194.05 L1826.25,2206.85 M1865.04,2181.25 L1873.64,2194.05 L1865.04,2206.85 M1903.83,2181.25 L1912.43,2194.05 L1903.83,2206.85 M1942.62,2181.25 L1951.22,2194.05 L1942.62,2206.85 M1981.41,2181.25 L1990.01,2194.05 L1981.41,2206.85 M2020.2,2181.25 L2028.8,2194.05 L2020.2,2206.85 M2058.99,2181.25 L2067.59,2194.05 L2058.99,2206.85 M2097.78,2181.25 L2106.38,2194.05 L2097.78,2206.85 M2136.57,2181.25 L2145.17,2194.05 L2136.57,2206.85 M2175.36,2181.25 L2183.96,2194.05 L2175.36,2206.85 M2214.15,2181.25 L2222.75,2194.05 L2214.15,2206.85 M2252.94,2181.25 L2261.54,2194.05 L2252.94,2206.85 M2291.73,2181.25 L2300.33,2194.05 L2291.73,2206.85" fill="none" stroke="#000" stroke-width="3.3" stroke-linejoin="miter" stroke-miterlimit="10"/>
<rect x="399.9" y="2164.3" width="42.6" height="59.5" fill="#000"/>
<rect x="1744.1" y="2164.3" width="23.1" height="59.5" fill="#000"/>
<rect x="2280.9" y="2164.3" width="58.8" height="59.5" fill="#000"/>
<rect x="400" y="2391" width="1939" height="3.2" fill="#000"/>
<path d="M429.81,2379.8 L438.41,2392.6 L429.81,2405.4 M468.6,2379.8 L477.2,2392.6 L468.6,2405.4 M507.39,2379.8 L515.99,2392.6 L507.39,2405.4 M546.18,2379.8 L554.78,2392.6 L546.18,2405.4 M584.97,2379.8 L593.57,2392.6 L584.97,2405.4 M623.76,2379.8 L632.36,2392.6 L623.76,2405.4 M662.55,2379.8 L671.15,2392.6 L662.55,2405.4 M701.34,2379.8 L709.94,2392.6 L701.34,2405.4 M740.13,2379.8 L748.73,2392.6 L740.13,2405.4 M778.92,2379.8 L787.52,2392.6 L778.92,2405.4 M817.71,2379.8 L826.31,2392.6 L817.71,2405.4 M856.5,2379.8 L865.1,2392.6 L856.5,2405.4 M895.29,2379.8 L903.89,2392.6 L895.29,2405.4 M934.08,2379.8 L942.68,2392.6 L934.08,2405.4 M972.87,2379.8 L981.47,2392.6 L972.87,2405.4 M1011.66,2379.8 L1020.26,2392.6 L1011.66,2405.4 M1050.45,2379.8 L1059.05,2392.6 L1050.45,2405.4 M1089.24,2379.8 L1097.84,2392.6 L1089.24,2405.4 M1128.03,2379.8 L1136.63,2392.6 L1128.03,2405.4 M1166.82,2379.8 L1175.42,2392.6 L1166.82,2405.4 M1205.61,2379.8 L1214.21,2392.6 L1205.61,2405.4 M1244.4,2379.8 L1253,2392.6 L1244.4,2405.4 M1283.19,2379.8 L1291.79,2392.6 L1283.19,2405.4 M1321.98,2379.8 L1330.58,2392.6 L1321.98,2405.4 M1360.77,2379.8 L1369.37,2392.6 L1360.77,2405.4 M1399.56,2379.8 L1408.16,2392.6 L1399.56,2405.4 M1438.35,2379.8 L1446.95,2392.6 L1438.35,2405.4 M1477.14,2379.8 L1485.74,2392.6 L1477.14,2405.4 M1515.93,2379.8 L1524.53,2392.6 L1515.93,2405.4 M1554.72,2379.8 L1563.32,2392.6 L1554.72,2405.4 M1593.51,2379.8 L1602.11,2392.6 L1593.51,2405.4 M1632.3,2379.8 L1640.9,2392.6 L1632.3,2405.4 M1671.09,2379.8 L1679.69,2392.6 L1671.09,2405.4 M1709.88,2379.8 L1718.48,2392.6 L1709.88,2405.4 M1748.67,2379.8 L1757.27,2392.6 L1748.67,2405.4 M1787.46,2379.8 L1796.06,2392.6 L1787.46,2405.4 M1826.25,2379.8 L1834.85,2392.6 L1826.25,2405.4 M1865.04,2379.8 L1873.64,2392.6 L1865.04,2405.4 M1903.83,2379.8 L1912.43,2392.6 L1903.83,2405.4 M1942.62,2379.8 L1951.22,2392.6 L1942.62,2405.4 M1981.41,2379.8 L1990.01,2392.6 L1981.41,2405.4 M2020.2,2379.8 L2028.8,2392.6 L2020.2,2405.4 M2058.99,2379.8 L2067.59,2392.6 L2058.99,2405.4 M2097.78,2379.8 L2106.38,2392.6 L2097.78,2405.4 M2136.57,2379.8 L2145.17,2392.6 L2136.57,2405.4 M2175.36,2379.8 L2183.96,2392.6 L2175.36,2405.4 M2214.15,2379.8 L2222.75,2392.6 L2214.15,2405.4 M2252.94,2379.8 L2261.54,2392.6 L2252.94,2405.4 M2291.73,2379.8 L2300.33,2392.6 L2291.73,2405.4" fill="none" stroke="#000" stroke-width="3.3" stroke-linejoin="miter" stroke-miterlimit="10"/>
<rect x="399.9" y="2362.85" width="42.6" height="59.5" fill="#000"/>
<rect x="1181.2" y="2362.85" width="52.8" height="59.5" fill="#000"/>
<rect x="2280.9" y="2362.85" width="58.8" height="59.5" fill="#000"/>
</svg></body></html>
